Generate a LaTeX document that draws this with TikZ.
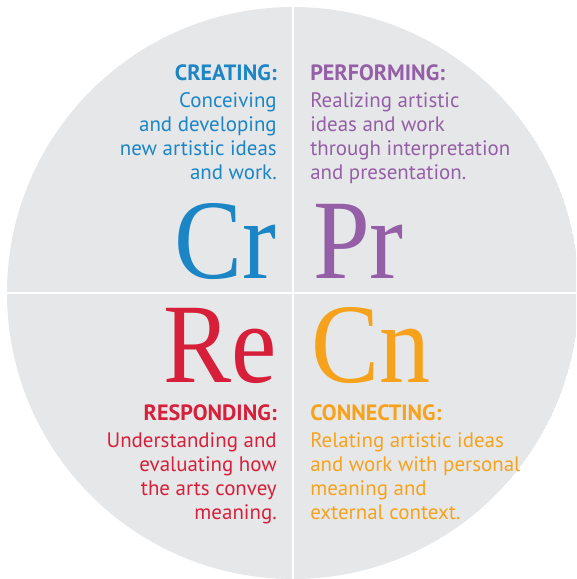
\documentclass[tikz,border=0pt]{standalone}
\usepackage{fontspec}
\setmainfont{PT Sans}
\newfontfamily\bigserif{Liberation Serif}[FakeStretch=0.9]
\usetikzlibrary{positioning}
\definecolor{crblue}{HTML}{1B85C6}
\definecolor{prpurple}{HTML}{955FA7}
\definecolor{rered}{HTML}{D71F3A}
\definecolor{cnorange}{HTML}{F6A21D}
\definecolor{discgray}{HTML}{E6E7E8}

\begin{document}
\begin{tikzpicture}[x=0.75pt,y=-0.75pt,
  head/.style={font=\bfseries\fontsize{16.6}{18}\selectfont, inner sep=0pt},
  body/.style={font=\fontsize{15.7}{18}\selectfont, inner sep=0pt},
  abbr/.style={font=\bigserif\fontsize{85}{85}\selectfont, inner sep=0pt}]
\useasboundingbox (0,0) rectangle (576,579);
\clip (0,0) rectangle (576,579);
% disc and quarter lines
\begin{scope}
\clip (293,293) circle (286);
\fill[discgray] (293,293) circle (286);
\draw[white, line width=2.2pt] (293,0) -- (293,579);
\draw[white, line width=2.2pt] (0,293) -- (576,293);
\end{scope}
% creating
\node[head, text=crblue, anchor=base east] (crhead) at (277,80) {CREATING:};
\node[body, text=crblue, align=right, anchor=north east] (crtext) at (277,92) {Conceiving\\and developing\\new artistic ideas\\and work.};
\node[abbr, text=crblue, anchor=base east] (cr) at (277,278) {Cr};
% performing
\node[head, text=prpurple, anchor=base west] (prhead) at (310,80) {PERFORMING:};
\node[body, text=prpurple, align=left, anchor=north west] (prtext) at (310,92) {Realizing artistic\\ideas and work\\through interpretation\\and presentation.};
\node[abbr, text=prpurple, anchor=base west] (pr) at (313,278) {Pr};
% responding
\node[abbr, text=rered, anchor=base east] (re) at (277,382) {Re};
\node[head, text=rered, anchor=base east] (rehead) at (277,420) {RESPONDING:};
\node[body, text=rered, align=right, anchor=north east] (retext) at (277,432) {Understanding and\\evaluating how\\the arts convey\\meaning.};
% connecting
\node[abbr, text=cnorange, anchor=base west] (cn) at (311,382) {Cn};
\node[head, text=cnorange, anchor=base west] (cnhead) at (310,420) {CONNECTING:};
\node[body, text=cnorange, align=left, anchor=north west] (cntext) at (310,432) {Relating artistic ideas\\and work with personal\\meaning and\\external context.};
\end{tikzpicture}
\end{document}
